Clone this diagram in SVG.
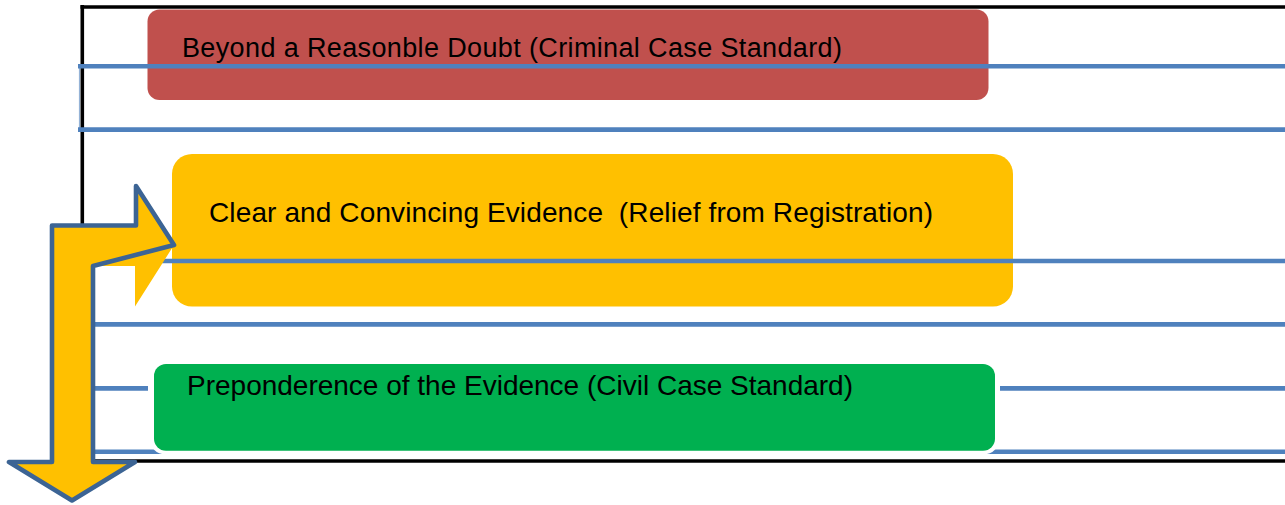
<svg xmlns="http://www.w3.org/2000/svg" width="1285" height="505" viewBox="0 0 1285 505">
<style>
.frame{stroke:#000;stroke-width:3.6;fill:none}
.rule{stroke:#4F81BD;stroke-width:4.6;fill:none}
.lbl{font-family:"Liberation Sans",Arial,sans-serif;fill:#000}
</style>
<rect width="1285" height="505" fill="#fff"/>
<g id="frame">
<line class="frame" x1="82.3" y1="5" x2="82.3" y2="462"/>
<line class="frame" x1="80.5" y1="7" x2="1285" y2="7"/>
<line class="frame" x1="82" y1="461" x2="1285" y2="461"/>
<line x1="79.5" y1="66" x2="79.5" y2="130" stroke="#95B3D7" stroke-width="1.2"/>
</g>
<g id="node-beyond">
<rect x="147.5" y="9.5" width="841" height="90.5" rx="12" fill="#C0504D"/>
</g>
<g id="node-clear">
<rect x="172" y="154" width="841" height="152.5" rx="20" fill="#FFC000"/>
</g>
<g id="connectors">
<line class="rule" x1="78" y1="66.3" x2="1285" y2="66.3"/>
<line class="rule" x1="78" y1="129.6" x2="1285" y2="129.6"/>
<line class="rule" x1="93" y1="261" x2="1285" y2="261"/>
<line class="rule" x1="93" y1="324.4" x2="1285" y2="324.4"/>
<line class="rule" x1="93" y1="388.4" x2="148" y2="388.4"/>
<line class="rule" x1="1000" y1="388.4" x2="1285" y2="388.4"/>
<line class="rule" x1="93" y1="451.7" x2="1285" y2="451.7"/>
</g>
<g id="node-preponderance">
<rect x="150" y="360.5" width="849" height="94" rx="15" fill="#fff"/>
<rect x="154" y="364" width="841" height="86.7" rx="12" fill="#00B050"/>
</g>
<g id="arrow">
<polygon points="93,266 174,245 135,306.5 135,266" fill="#FFC000"/>
<path d="M52,225.5 L136,225.5 L136,186 L174,245 L93,266 L93,462 L135,462 L72,500.5 L9,462 L52,462 Z" fill="#FFC000" stroke="#3C6494" stroke-width="4.6" stroke-linejoin="round"/>
</g>
<g id="labels">
<text class="lbl" x="182" y="57" font-size="27" textLength="660" lengthAdjust="spacing">Beyond a Reasonble Doubt (Criminal Case Standard)</text>
<text class="lbl" x="209" y="222" font-size="28" textLength="724" lengthAdjust="spacing" xml:space="preserve">Clear and Convincing Evidence  (Relief from Registration)</text>
<text class="lbl" x="187" y="395" font-size="28.5" textLength="666" lengthAdjust="spacingAndGlyphs">Preponderence of the Evidence (Civil Case Standard)</text>
</g>
</svg>
